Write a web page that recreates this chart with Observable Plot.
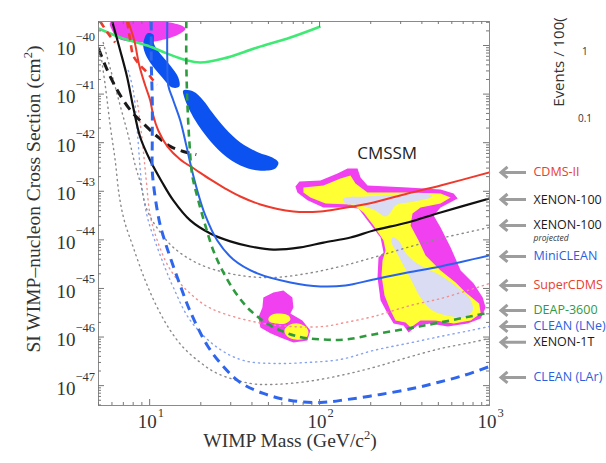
<!DOCTYPE html>
<html><head><meta charset="utf-8">
<script src="https://cdn.jsdelivr.net/npm/d3@7"></script>
<script src="https://cdn.jsdelivr.net/npm/@observablehq/plot@0.6"></script>
<style>
body{margin:0;background:#fff;}
#wrap{position:relative;width:606px;height:463px;overflow:hidden;background:#fff;}
#wrap svg{position:absolute;left:0;top:0;}
.ttl{position:absolute;font-family:"Liberation Serif",serif;font-size:19.5px;color:#333;white-space:nowrap;}
.ttl sup{font-size:12.5px;}
.frag{position:absolute;font-family:"Open Sans",sans-serif;color:#333;white-space:nowrap;}
</style></head><body><div id="wrap"></div>
<script>
// ---- axis ticks ----
const xMajorTicks = [10, 100, 1000];
const xTickExponents = ["1", "2", "3"];
const yMajorTicks = [1e-40, 1e-41, 1e-42, 1e-43, 1e-44, 1e-45, 1e-46, 1e-47];
const yTickExponents = ["\u221240", "\u221241", "\u221242", "\u221243", "\u221244", "\u221245", "\u221246", "\u221247"];
const xMinorTicks = [5, 6, 7, 8, 9, 20, 30, 40, 50, 60, 70, 80, 90, 200, 300, 400, 500, 600, 700, 800, 900];
const yMinorTicks = d3.range(-48, -39).flatMap(e => d3.range(2, 10).map(k => k * 10 ** e)).filter(v => v >= 3.9e-48 && v <= 3.12e-40);

// ---- limit curves [mass GeV, cross section cm^2] ----
const cdmsII = [[7.48,3.12e-40],[8.12,1.27e-40],[8.69,3.88e-41],[9.42,1.5e-41],[10.08,7.4e-42],[10.5,3.63e-42],[11.24,1.78e-42],[12.7,8.4e-43],[15.14,4.51e-43],[18.56,2.81e-43],[22.75,1.75e-43],[27.88,1.14e-43],[34.18,7.8e-44],[44.83,5.35e-44],[70.14,3.84e-44],[101.2,3.84e-44],[132.7,4.43e-44],[207.7,5.9e-44],[329.5,9.0e-44],[515.5,1.32e-43],[1000,2.44e-43]];
const xenon100 = [[6.02,3.12e-40],[6.71,7.9e-41],[7.38,2.2e-41],[8.01,5.3e-42],[8.81,1.28e-42],[10.08,4.3e-43],[11.86,1.52e-43],[13.78,6.5e-44],[17.34,2.51e-44],[22.75,1.35e-44],[29.84,9.3e-45],[39.15,7.3e-45],[53.48,6.3e-45],[77.14,7.0e-45],[105.4,8.8e-45],[152,1.12e-44],[207.7,1.56e-44],[329.5,2.28e-44],[515.5,3.66e-44],[1000,7.1e-44]];
const xenon100proj = [[5.33,1.15e-40],[6.02,2.41e-41],[6.71,5.8e-42],[7.48,1.41e-42],[8.23,3.4e-43],[8.81,1.52e-43],[9.68,4.03e-44],[11.55,1.42e-44],[13.78,7.0e-45],[17.34,3.95e-45],[21.85,2.71e-45],[34.18,1.85e-45],[53.48,1.68e-45],[84.84,2.04e-45],[132.7,2.84e-45],[207.7,4.35e-45],[329.5,7.0e-45],[515.5,1.07e-44],[1000,1.8e-44]];
const miniClean = [[12.7,3.12e-40],[12.7,4.9e-41],[12.87,1.5e-41],[13.78,7.4e-42],[15.14,2.86e-42],[16.43,8.8e-43],[17.58,3.09e-43],[19.07,1.04e-43],[21.26,3.18e-44],[25.0,9.7e-45],[31.09,3.95e-45],[43.04,2.04e-45],[67.33,1.33e-45],[101.2,1.1e-45],[142,1.15e-45],[207.7,1.53e-45],[329.5,2.13e-45],[515.5,2.84e-45],[1000,4.78e-45]];
const superCdms = [[8.45,7.4e-42],[9.05,1.11e-42],[9.55,1.67e-43],[10.08,3.18e-44],[11.09,9.7e-45],[12.7,3.12e-45],[15.14,1.27e-45],[17.34,7.9e-46],[21.26,4.47e-46],[27.14,3.06e-46],[43.04,2.0e-46],[67.33,1.65e-46],[105.4,1.65e-46],[142,2.0e-46],[207.7,2.65e-46],[343.2,4.47e-46],[515.5,6.2e-46],[774.8,9.5e-46],[1000,1.27e-45]];
const deap3600 = [[16.43,3.12e-40],[16.43,4.9e-41],[16.65,7.4e-42],[17.11,1.11e-42],[17.82,2.11e-43],[19.33,6.5e-44],[21.26,1.98e-44],[23.69,6.05e-45],[26.77,2.35e-45],[31.94,8.3e-46],[39.15,3.52e-46],[51.35,1.73e-46],[74.06,1.03e-46],[105.4,8.9e-47],[142,8.9e-47],[207.7,1.13e-46],[329.5,1.5e-46],[515.5,2.0e-46],[1000,3.21e-46]];
const cleanLNe = [[7.48,3.06e-41],[8.01,1.19e-41],[8.45,1.78e-42],[8.81,2.68e-43],[9.05,1.04e-43],[9.81,2.51e-44],[11.09,7.0e-45],[12.36,2.58e-45],[13.78,1.05e-45],[17.34,2.2e-46],[25.0,6.1e-47],[35.6,3.3e-47],[53.48,2.86e-47],[84.84,3.0e-47],[132.7,3.46e-47],[207.7,5.3e-47],[329.5,7.4e-47],[515.5,1.03e-46],[774.8,1.37e-46],[1000,1.65e-46]];
const xenon1T = [[5.12,7.9e-41],[5.48,1.5e-41],[5.86,2.26e-42],[6.27,4.3e-43],[6.62,8.2e-44],[7.09,2.51e-44],[8.01,7.0e-45],[9.42,1.46e-45],[11.09,4.06e-46],[13.22,1.37e-46],[15.78,6.1e-47],[19.86,3.0e-47],[25.0,1.78e-47],[39.15,1.11e-47],[53.48,1.06e-47],[84.84,1.22e-47],[132.7,1.62e-47],[207.7,2.37e-47],[329.5,3.8e-47],[515.5,5.8e-47],[774.8,7.7e-47],[1000,9.4e-47]];
const cleanLAr = [[10.22,3.12e-40],[10.22,4.9e-41],[10.36,7.4e-42],[10.36,1.11e-42],[10.36,2.68e-43],[10.64,1.04e-43],[11.09,4.03e-44],[11.55,1.98e-44],[12.36,8.8e-45],[13.22,4.35e-45],[15.14,1.15e-45],[17.34,3.36e-46],[21.85,6.7e-47],[27.14,2.48e-47],[34.18,1.16e-47],[46.69,6.9e-48],[67.33,4.96e-48],[101.2,4.51e-48],[146,5.2e-48],[228.4,6.6e-48],[357.4,8.8e-48],[495,1.16e-47],[704.5,1.62e-47],[1000,2.48e-47]];
const blackDashed = [[5.0,8.7e-41],[5.48,3.88e-41],[6.1,1.73e-41],[6.9,8.1e-42],[7.9,4.18e-42],[9.17,2.48e-42],[11.09,1.34e-42],[13.22,8.4e-43],[15.78,6.6e-43],[18.81,5.7e-43]];
const redDashedA = [[5.12,3.12e-40],[5.7,1.77e-40],[6.27,1.15e-40]];
const redDashedB = [[7.38,3.12e-40],[7.69,1.27e-40],[8.01,6.2e-41],[8.81,3.88e-41],[9.68,2.78e-41],[10.5,1.91e-41],[11.09,1.58e-41]];
const greenSolid = [[5.0,2.24e-40],[6.99,1.39e-40],[9.68,1.0e-40],[12.7,6.8e-41],[16.65,4.9e-41],[19.86,4.47e-41],[27.14,5.4e-41],[43.04,9.1e-41],[67.33,1.46e-40],[101.2,2.46e-40]];

// ---- allowed regions (closed outlines) ----
const magentaTop = [[5.86,2.97e-40],[13.22,2.97e-40],[16.21,2.24e-40],[14.74,1.68e-40],[11.55,1.27e-40],[8.81,1.15e-40],[6.53,1.39e-40],[6.02,2.04e-40]];
const blueBlob1 = [[9.68,1.77e-40],[10.5,1.68e-40],[10.64,1.05e-40],[11.55,6.8e-41],[13.22,3.88e-41],[14.74,2.2e-41],[14.94,1.43e-41],[13.59,1.37e-41],[11.86,2.2e-41],[10.36,3.88e-41],[9.42,6.8e-41],[9.17,1.05e-40]];
const blueBlob2 = [[15.78,1.19e-41],[18.07,1.13e-41],[20.69,7.4e-42],[23.37,4.18e-42],[27.88,1.96e-42],[34.18,1.01e-42],[43.63,6.3e-43],[52.76,4.96e-43],[57.23,3.91e-43],[54.95,2.95e-43],[43.63,2.68e-43],[34.18,3.4e-43],[26.77,6.0e-43],[21.85,1.28e-42],[18.56,2.86e-42],[16.88,5.3e-42],[15.99,8.5e-42]];
const cmssmOuter = [[72.07,1.26e-43],[76.1,1.59e-43],[101.2,1.67e-43],[127.4,2.32e-43],[146,2.95e-43],[167.2,2.95e-43],[174.2,1.92e-43],[191.5,1.32e-43],[329.5,1.2e-43],[515.5,1.09e-43],[615.2,9.0e-44],[649.6,7.1e-44],[515.5,4.64e-44],[469,3.18e-44],[515.5,1.8e-44],[590.6,7.0e-45],[676.4,2.35e-45],[806.9,1.27e-45],[911.8,6.5e-46],[949.6,4.06e-46],[887.5,2.41e-46],[743.8,1.91e-46],[567,1.65e-46],[450.3,1.91e-46],[377.3,1.73e-46],[334,1.24e-46],[312.1,1.73e-46],[272.5,1.91e-46],[251.2,3.06e-46],[228.4,5.7e-46],[219.3,1.68e-45],[222.3,4.35e-45],[237.9,5.5e-45],[228.4,1.12e-44],[191.5,2.51e-44],[169.5,4.43e-44],[146,4.64e-44],[105.4,4.64e-44],[84.84,6.5e-44],[74.06,9.4e-44]];
const cmssmYellow = [[80.35,1.2e-43],[105.4,1.32e-43],[132.7,1.83e-43],[152,2.11e-43],[162.7,1.45e-43],[191.5,9.4e-44],[329.5,9.4e-44],[515.5,9.0e-44],[590.6,7.45e-44],[515.5,5.6e-44],[393,4.64e-44],[352.4,3.49e-44],[343.2,1.98e-44],[382.5,9.7e-45],[420.7,4.78e-45],[515.5,2.35e-45],[632.1,1.33e-45],[723.8,8.3e-46],[869.6,4.91e-46],[887.5,3.06e-46],[774.8,2.2e-46],[615.2,1.91e-46],[481.5,2.2e-46],[393,2.2e-46],[343.2,1.58e-46],[320.7,2.0e-46],[280,2.2e-46],[261.6,3.52e-46],[241.1,7.2e-46],[231.5,1.85e-45],[234.7,3.77e-45],[244.5,6.05e-45],[237.9,9.7e-45],[207.7,1.98e-44],[181.4,3.66e-44],[162.7,4.86e-44],[152,5.35e-44],[108.3,5.6e-44],[88.3,7.45e-44],[80.35,9.4e-44]];
const cmssmCoreTop = [[138.2,7.1e-44],[186.4,7.8e-44],[299.6,8.6e-44],[420.7,9.0e-44],[462.2,7.8e-44],[367.1,6.2e-44],[280,5.1e-44],[261.6,3.66e-44],[244.5,3.03e-44],[212.5,4.03e-44],[174.2,5.1e-44],[142,5.6e-44]];
const cmssmCoreStem = [[268.7,1.12e-44],[291.4,9.7e-45],[329.5,4.78e-45],[393,2.97e-45],[515.5,1.85e-45],[659.9,1.0e-45],[774.8,5.7e-46],[795.6,3.52e-46],[704.5,2.53e-46],[648,2.53e-46],[462.2,3.52e-46],[393,6.5e-46],[352.4,1.33e-45],[312.1,2.97e-45],[280,6.05e-45],[265.1,8.8e-45]];
const smallOuter = [[46.69,6.5e-46],[53.48,8.3e-46],[61.26,9.1e-46],[69.2,6.5e-46],[70.14,4.06e-46],[67.33,3.06e-46],[79.2,2.2e-46],[88.3,1.37e-46],[84.84,8.5e-47],[70.14,7.7e-47],[58.8,9.8e-47],[51.35,1.19e-46],[44.83,1.58e-46],[43.63,2.53e-46],[46.07,4.06e-46]];
const smallYellow1 = [[49.97,2.41e-46],[52.76,2.92e-46],[58.8,3.06e-46],[65.6,2.78e-46],[67.33,2.3e-46],[62.9,1.91e-46],[54.95,1.91e-46],[50.6,2.09e-46]];
const smallYellow2 = [[62.1,1.37e-46],[65.6,1.73e-46],[74.06,1.91e-46],[82.6,1.65e-46],[86.0,1.24e-46],[82.6,9.4e-47],[72.07,8.9e-47],[64.6,1.03e-46]];

// ---- legend labels ----
const legendLabels = ["CDMS-II","XENON-100","XENON-100","MiniCLEAN","SuperCDMS","DEAP-3600","CLEAN (LNe)","XENON-1T","CLEAN (LAr)"];
const legendSeries = [cdmsII, xenon100, xenon100proj, miniClean, superCdms, deap3600, cleanLNe, xenon1T, cleanLAr];
const legendColors = ["#e8402f","#1a1a1a","#1a1a1a","#2a5fe0","#e8402f","#2f9a3f","#2a5fe0","#1a1a1a","#2a5fe0"];
const legendDy = [0, 1, -2, 1, 2, -2, 0, 4, 11];

// ---- styles ----
const lineStyles = [
  {d: xenon1T, stroke: "#8a8a8a", w: 1.4, dash: "1.2 4"},
  {d: cleanLNe, stroke: "#86a2f0", w: 1.4, dash: "1.2 4"},
  {d: superCdms, stroke: "#f29090", w: 1.4, dash: "1.2 4"},
  {d: xenon100proj, stroke: "#8a8a8a", w: 1.4, dash: "1.2 4"},
  {d: greenSolid, stroke: "#3fea74", w: 2.6},
  {d: redDashedA, stroke: "#ee3a2c", w: 2.6, dash: "7 5"},
  {d: redDashedB, stroke: "#ee3a2c", w: 2.6, dash: "7 5"},
  {d: blackDashed, stroke: "#1a1a1a", w: 3, dash: "9 6"},
  {d: cdmsII, stroke: "#ee3a2c", w: 2},
  {d: xenon100, stroke: "#111", w: 2.2},
  {d: miniClean, stroke: "#2a64ea", w: 2},
  {d: deap3600, stroke: "#2e9a3e", w: 2.6, dash: "7 5"},
  {d: cleanLAr, stroke: "#2f66ee", w: 3, dash: "9 6"}
];
const regionStyles = [
  {d: magentaTop, fill: "#f040f0", curve: "catmull-rom-closed"},
  {d: blueBlob1, fill: "#0b52f0", curve: "catmull-rom-closed"},
  {d: blueBlob2, fill: "#0b52f0", curve: "catmull-rom-closed"},
  {d: cmssmOuter, fill: "#f040f0", curve: "linear-closed"},
  {d: cmssmYellow, fill: "#ffff33", curve: "linear-closed"},
  {d: cmssmCoreTop, fill: "#d9dcf2", curve: "catmull-rom-closed"},
  {d: cmssmCoreStem, fill: "#d9dcf2", curve: "catmull-rom-closed"},
  {d: smallOuter, fill: "#f040f0", curve: "linear-closed"},
  {d: smallYellow1, fill: "#ffff33", curve: "catmull-rom-closed"},
  {d: smallYellow2, fill: "#ffff33", curve: "catmull-rom-closed"}
];

const arrowSymbol = {draw(ctx) {
  ctx.moveTo(12.5, 0); ctx.lineTo(-12, 0);
  ctx.moveTo(-6, -5.5); ctx.lineTo(-12.5, 0); ctx.lineTo(-6, 5.5);
}};

const X = d => d[0], Y = d => d[1];
const tickStroke = "#777";
const serif = "Liberation Serif";
const frameH = 463 - 21 - 58, frameW = 606 - 98 - 117;

const marks = [
  ...regionStyles.map(r => Plot.line(r.d, {x: X, y: Y, fill: r.fill, stroke: "none", curve: r.curve, clip: true})),
  ...lineStyles.map(s => Plot.line(s.d, {x: X, y: Y, stroke: s.stroke, strokeWidth: s.w, strokeDasharray: s.dash, strokeLinecap: s.dash && s.dash.startsWith("1.2") ? "round" : "butt", curve: "catmull-rom", clip: true})),
  Plot.frame({stroke: "#8a8a8a"}),
  // inward ticks on all four sides
  Plot.tickX(xMinorTicks, {x: d => d, insetTop: frameH - 3, stroke: tickStroke}),
  Plot.tickX(xMinorTicks, {x: d => d, insetBottom: frameH - 3, stroke: tickStroke}),
  Plot.tickX(xMajorTicks.slice(0, 2), {x: d => d, insetTop: frameH - 6, stroke: tickStroke}),
  Plot.tickX(xMajorTicks.slice(0, 2), {x: d => d, insetBottom: frameH - 6, stroke: tickStroke}),
  Plot.tickY(yMinorTicks, {y: d => d, insetRight: frameW - 3, stroke: tickStroke}),
  Plot.tickY(yMinorTicks, {y: d => d, insetLeft: frameW - 3, stroke: tickStroke}),
  Plot.tickY(yMajorTicks, {y: d => d, insetRight: frameW - 6, stroke: tickStroke}),
  Plot.tickY(yMajorTicks, {y: d => d, insetLeft: frameW - 6, stroke: tickStroke}),
  // tick labels 10^n
  Plot.text(yMajorTicks, {y: d => d, frameAnchor: "left", text: () => "10", textAnchor: "end", dx: -23, dy: 3, fontSize: 19, fontFamily: serif, fill: "#333"}),
  Plot.text(yMajorTicks, {y: d => d, frameAnchor: "left", text: (d, i) => yTickExponents[i], textAnchor: "start", dx: -23, dy: -9, fontSize: 12.5, fontFamily: serif, fill: "#333"}),
  Plot.text(xMajorTicks, {x: d => d, frameAnchor: "bottom", text: () => "10", textAnchor: "end", dx: 7, dy: 22, fontSize: 19, fontFamily: serif, fill: "#333"}),
  Plot.text(xMajorTicks, {x: d => d, frameAnchor: "bottom", text: (d, i) => xTickExponents[i], textAnchor: "start", dx: 8, dy: 11, fontSize: 12.5, fontFamily: serif, fill: "#333"}),
  // annotation
  Plot.text(["CMSSM"], {x: () => 250, y: () => 6e-43, text: d => d, fontSize: 17, fontFamily: "Open Sans", fill: "#222"}),
  // legend arrows & labels at line ends
  ...legendSeries.map((s, i) => Plot.dot([s[s.length - 1]], {x: X, y: Y, dx: 24, dy: legendDy[i], symbol: arrowSymbol, stroke: "#9d9d9d", strokeWidth: 3, fill: "none"})),
  ...legendSeries.map((s, i) => Plot.text([s[s.length - 1]], {x: X, y: Y, dx: 44, dy: legendDy[i], text: () => legendLabels[i], textAnchor: "start", fontSize: 12.5, fontFamily: "Open Sans", fill: legendColors[i]})),
  Plot.text([xenon100proj[xenon100proj.length - 1]], {x: X, y: Y, dx: 44, dy: 11, text: () => "projected", textAnchor: "start", fontSize: 8.5, fontStyle: "italic", fontFamily: "Open Sans", fill: "#333"})
];

const chart = Plot.plot({
  width: 606, height: 463,
  marginLeft: 98, marginRight: 117, marginTop: 21, marginBottom: 58,
  x: {type: "log", domain: [5, 1000], axis: null},
  y: {type: "log", domain: [3.9e-48, 3.12e-40], axis: null},
  style: {background: "transparent", fontFamily: serif},
  marks
});
const wrap = document.getElementById("wrap");
wrap.appendChild(chart);

function addDiv(cls, html, css) {
  const el = document.createElement("div");
  el.className = cls; el.innerHTML = html; el.style.cssText = css;
  wrap.appendChild(el);
}
addDiv("ttl", "SI WIMP\u2013nucleon Cross Section (cm<sup>2</sup>)", "left:33px;top:199px;transform:translate(-50%,-50%) rotate(-90deg);");
addDiv("ttl", "WIMP Mass (GeV/c<sup>2</sup>)", "left:290px;top:440px;transform:translate(-50%,-50%);");
addDiv("frag", "Events / 100(", "left:558px;top:62px;font-size:15px;transform:translate(-50%,-50%) rotate(-90deg);");
addDiv("frag", "1", "left:582px;top:44px;font-size:10px;");
addDiv("frag", "0.1", "left:578px;top:111px;font-size:10px;");
</script>
</body></html>
